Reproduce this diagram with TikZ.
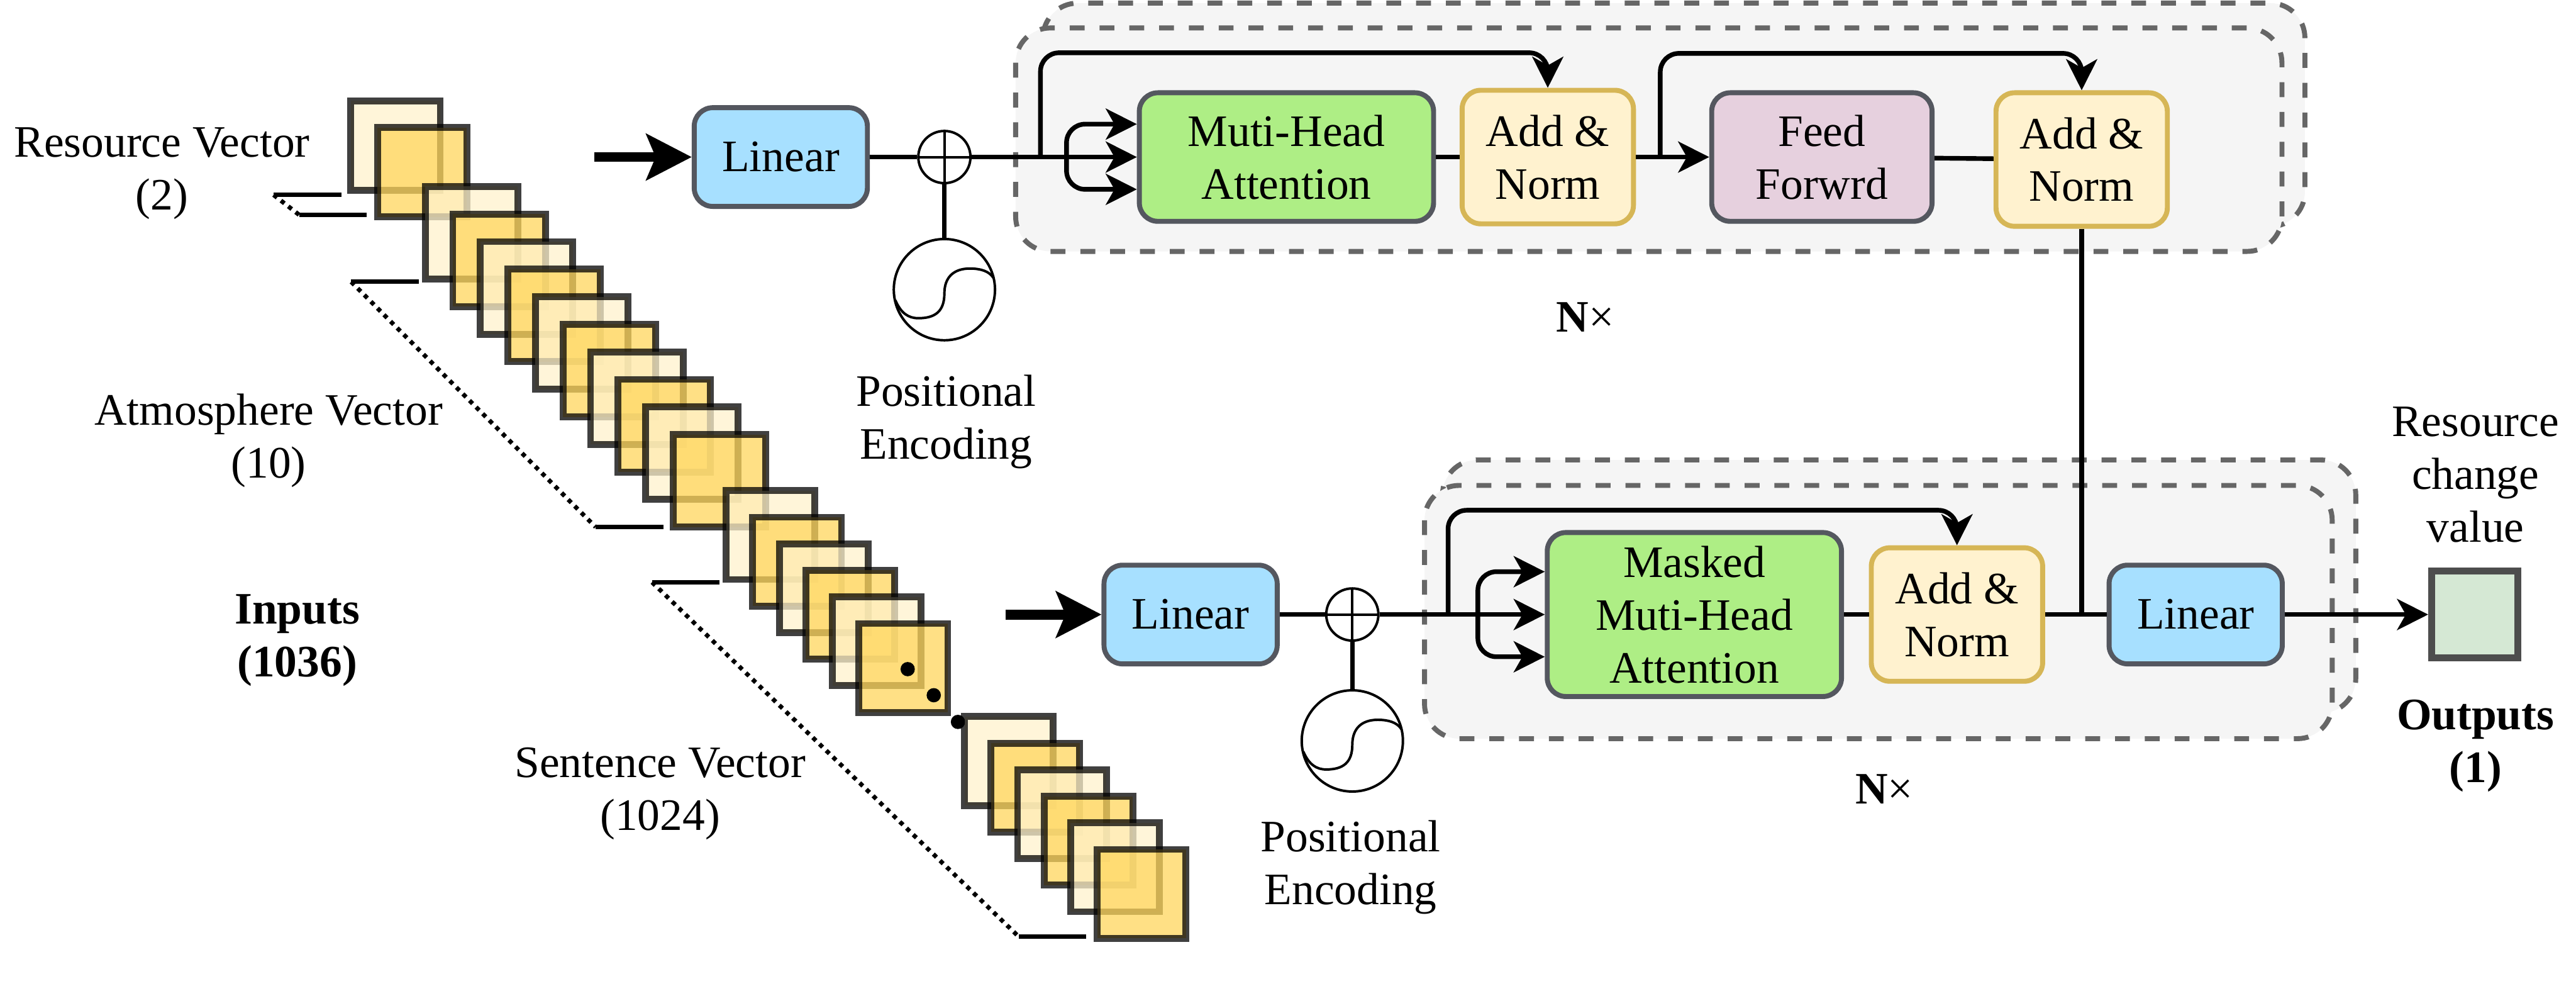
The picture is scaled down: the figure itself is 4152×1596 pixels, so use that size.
\documentclass[tikz,border=0pt]{standalone}
\usepackage{fontspec}
\setmainfont{Liberation Serif}
\usepackage{xcolor}
\usetikzlibrary{arrows.meta,positioning}
\definecolor{vgedge}{HTML}{54575F}
\definecolor{vglinear}{HTML}{A7E0FF}
\definecolor{vgatt}{HTML}{AEEE85}
\definecolor{vgnorm}{HTML}{FFF2CF}
\definecolor{vgnormedge}{HTML}{D6B656}
\definecolor{vgfeed}{HTML}{E6D0DE}
\definecolor{vgout}{HTML}{D5E8D4}
\definecolor{vgoutedge}{HTML}{4D4D4D}
\definecolor{vgpanel}{HTML}{F5F5F5}
\definecolor{vgdash}{HTML}{666666}
\definecolor{vgcelld}{HTML}{FFD65C}
\definecolor{vgcelll}{HTML}{FFF2CC}
\tikzset{
  layerbox/.style={rectangle,rounded corners=3mm,draw=vgedge,line width=0.8mm,align=center,inner sep=0pt},
  linbox/.style={layerbox,fill=vglinear,minimum width=27.9mm,minimum height=15.9mm},
  attbox/.style={layerbox,fill=vgatt,minimum width=47.4mm,minimum height=20.7mm},
  feedbox/.style={layerbox,fill=vgfeed,minimum width=35.5mm,minimum height=20.7mm},
  normbox/.style={layerbox,draw=vgnormedge,fill=vgnorm,minimum width=27.6mm,minimum height=21.5mm},
  outbox/.style={rectangle,draw=vgoutedge,line width=1.1mm,fill=vgout,minimum width=13.9mm,minimum height=14mm},
  encbox/.style={draw=vgdash,fill=vgpanel,line width=0.8mm,rounded corners=5.6mm,dash pattern=on 2.4mm off 2.4mm},
  sumnode/.style={circle,draw,fill=white,line width=0.4mm,minimum size=8.4mm,inner sep=0pt,
    path picture={\draw[line width=0.4mm] (path picture bounding box.north)--(path picture bounding box.south)
      (path picture bounding box.west)--(path picture bounding box.east);}},
  wavenode/.style={circle,draw,fill=white,line width=0.4mm,minimum size=16.3mm,inner sep=0pt},
  sqcell/.style={rectangle,draw=black,line width=1.1mm,opacity=0.75,inner sep=0pt},
  sqcell0/.style={sqcell,fill=vgcelld},
  sqcell1/.style={sqcell,fill=vgcelll},
  dotnode/.style={circle,fill=black,minimum size=2.3mm,inner sep=0pt},
  lbl/.style={align=center},
  flow/.style={-{Stealth[length=5mm,width=5mm,inset=1.4mm]},line width=0.75mm},
  bigflow/.style={-{Stealth[length=7.3mm,width=7.4mm,inset=1.5mm]},line width=1.6mm},
  plain/.style={line width=0.75mm},
  tick/.style={line width=0.7mm},
  dotline/.style={line width=0.7mm,dash pattern=on 0.7mm off 0.8mm},
}
\begin{document}
\begin{tikzpicture}[x=0.01cm,y=-0.01cm,font=\fontsize{20.6}{24.2}\selectfont]
  \useasboundingbox (0,0) rectangle (4152,1596);
  % encoder and decoder panels
  \draw[encbox] (1681,5) rectangle (3715,365);
  \draw[encbox] (1637,45) rectangle (3678,405);
  \draw[encbox] (2325,741) rectangle (3797,1149);
  \draw[encbox] (2296,782) rectangle (3759,1190);
  % input vectors
  \foreach \cx/\cy/\cnum/\cgap/\csize in {637.5/234.5/2/43/14.4,760/375/10/44.4/14.9,1242/862/6/42.8/14.3}{
    \foreach \i in {1,...,\cnum}{
      \pgfmathtruncatemacro{\tone}{mod(\i,2)}
      \node[sqcell\tone,minimum size=\csize mm] (cell\cnum-\i) at ({\cx+(\i-1)*\cgap},{\cy+(\i-1)*\cgap}) {};
    }
  }
  \node[dotnode] (dot1) at (1463,1078) {};
  \node[dotnode] (dot2) at (1505,1120) {};
  \node[dotnode] (dot3) at (1544,1163) {};
  \foreach \i in {1,...,6}{
    \pgfmathtruncatemacro{\tone}{mod(\i,2)}
    \node[sqcell\tone,minimum size=14.3mm] (last-\i) at ({1626+(\i-1)*42.8},{1226+(\i-1)*42.8}) {};
  }
  \foreach \nm/\ax/\ay/\bx/\by in {res/441/314/482/346,atm/566/454/960/849,sen/1051/938/1642/1509}{
    \coordinate (\nm a) at (\ax,\ay);
    \coordinate (\nm b) at (\bx,\by);
    \coordinate (\nm c) at (\ax+109,\ay);
    \coordinate (\nm d) at (\bx+109,\by);
    \draw[tick] (\nm a)--(\nm c);
    \draw[tick] (\nm b)--(\nm d);
    \draw[dotline] (\nm a)--(\nm b);
  }
  % top row
  \node[linbox] (lin1) at (1258.5,253) {Linear};
  \node[sumnode,right=7.6mm of lin1] (sum1) {};
  \node[wavenode,below=8.6mm of sum1] (wave1) {};
  \node[attbox,right=26.6mm of sum1] (att1) {Muti-Head\\Attention};
  \node[normbox,right=3.8mm of att1] (norm1) {Add \&\\Norm};
  \node[feedbox,right=11.8mm of norm1] (feed1) {Feed\\Forwrd};
  \node[normbox,right=9.5mm of feed1,yshift=-0.4mm] (norm2) {Add \&\\Norm};
  % bottom row
  \node[linbox] (lin2) at (1919,990) {Linear};
  \node[sumnode,right=7.3mm of lin2] (sum2) {};
  \node[wavenode,below=7.6mm of sum2] (wave2) {};
  \node[attbox,minimum height=26.4mm,right=26.6mm of sum2] (att2) {Masked\\Muti-Head\\Attention};
  \node[normbox,right=4mm of att2] (norm3) {Add \&\\Norm};
  \node[linbox,right=9.9mm of norm3] (lin3) {Linear};
  \node[outbox,right=23.1mm of lin3] (out1) {};
  % top row connectors
  \coordinate (in1) at (958,253);
  \coordinate (skip1) at (1677,253);
  \coordinate (top1) at (1677,85);
  \coordinate (fork1) at (1719,253);
  \coordinate (skip2) at (2676,253);
  \coordinate (top2) at (2676,86);
  \draw[bigflow] (in1)--(lin1);
  \draw[plain] (lin1)--(sum1);
  \draw[plain] (sum1)--(wave1);
  \draw[flow] (sum1)--(att1);
  \draw[flow,rounded corners=3mm] (skip1)--(top1)-|(norm1.north);
  \draw[flow,rounded corners=3mm] (fork1)|-([yshift=5.3mm]att1.west);
  \draw[flow,rounded corners=3mm] (fork1)|-([yshift=-5.2mm]att1.west);
  \draw[plain] (att1)--(norm1);
  \draw[flow] (norm1)--(feed1);
  \draw[flow,rounded corners=3mm] (skip2)--(top2)-|(norm2.north);
  \draw[plain] (feed1)--(norm2);
  % bottom row connectors
  \coordinate (in2) at (1621,990);
  \coordinate (skip3) at (2334,990);
  \coordinate (top3) at (2334,822);
  \coordinate (fork2) at (2382,990);
  \draw[bigflow] (in2)--(lin2);
  \draw[plain] (lin2)--(sum2);
  \draw[plain] (sum2)--(wave2);
  \draw[flow] (sum2)--(att2);
  \draw[flow,rounded corners=3mm] (skip3)--(top3)-|(norm3.north);
  \draw[flow,rounded corners=3mm] (fork2)|-([yshift=6.9mm]att2.west);
  \draw[flow,rounded corners=3mm] (fork2)|-([yshift=-6.8mm]att2.west);
  \draw[plain] (att2)--(norm3);
  \draw[plain] (norm3)--(lin3);
  \draw[plain] (norm2.south)--(norm2.south|-lin3.west);
  \draw[flow] (lin3)--(out1);
  \foreach \pe in {wave1,wave2}
    \draw[line width=0.4mm,shift={(\pe.center)}] (-79,17) .. controls (-70,38) and (-58,46) .. (-42,46)
      .. controls (-15,46) and (0,35) .. (0,6) .. controls (0,-20) and (15,-34) .. (41,-34)
      .. controls (58,-34) and (72,-30) .. (79,-19);
  % labels
  \node[lbl] (lblres) at (261,279) {Resource Vector\\(2)};
  \node[lbl] (lblatm) at (433,710) {Atmosphere Vector\\(10)};
  \node[lbl,font=\fontsize{20.6}{24.2}\selectfont\bfseries] (lblin) at (479,1032) {Inputs\\(1036)};
  \node[lbl] (lblsen) at (1064,1279) {Sentence Vector\\(1024)};
  \node[lbl] (lblpe1) at (1525,680) {Positional\\Encoding};
  \node[lbl] (lblpe2) at (2177,1397) {Positional\\Encoding};
  \node[lbl] (lbln1) at (2555,511) {\textbf{N}×};
  \node[lbl] (lbln2) at (3037,1271) {\textbf{N}×};
  \node[lbl] (lblres2) at (3990,765) {Resource\\change\\value};
  \node[lbl,font=\fontsize{20.6}{24.2}\selectfont\bfseries] (lblout) at (3990,1202) {Outputs\\(1)};
\end{tikzpicture}
\end{document}
